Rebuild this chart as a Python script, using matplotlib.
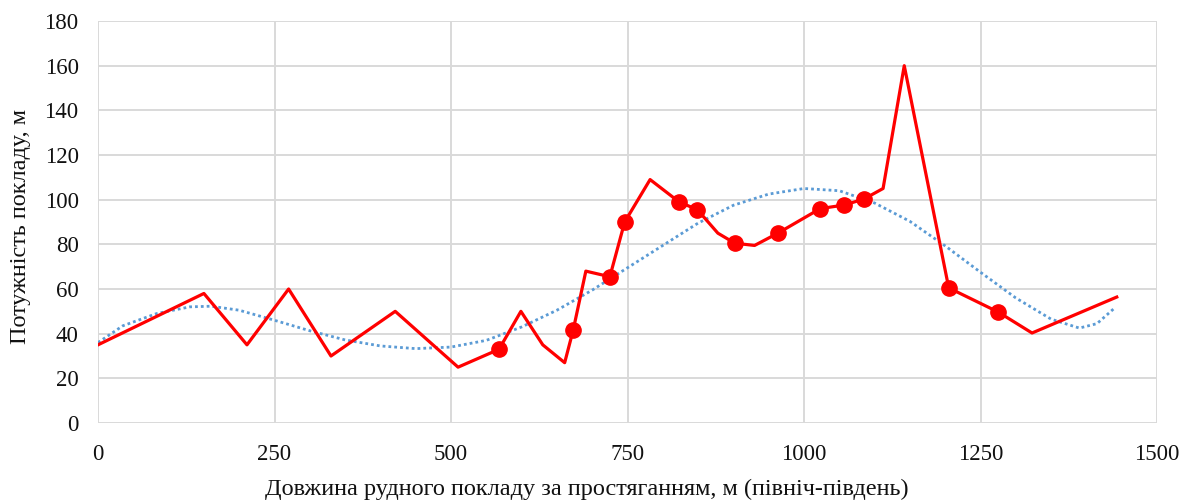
import matplotlib
matplotlib.use("Agg")
import matplotlib.pyplot as plt

# Red series: thickness along strike
x_vals = [0, 150, 211, 270, 330, 421, 510, 568, 599, 630, 661, 673, 691, 725, 746,
          782, 823, 849, 878, 902, 930, 963, 1023, 1057, 1085, 1112, 1142, 1205,
          1275, 1323, 1443]
y_vals = [35, 58, 35, 60, 30, 50, 25, 33, 50, 35, 27, 41.5, 68, 65.5, 90,
          109, 99, 95.5, 85, 80.5, 79.5, 85, 96, 97.6, 100.3, 105, 160, 60.5,
          49.7, 40.3, 56.4]
# Points drawn with a circle marker
marker_x = [568, 673, 725, 746, 823, 849, 902, 963, 1023, 1057, 1085, 1205, 1275]
marker_y = [33, 41.5, 65.5, 90, 99, 95.5, 80.5, 85, 96, 97.6, 100.3, 60.5, 49.7]

# Blue dotted trend line
trend_x = [0, 35, 83, 130, 160, 200, 250, 300, 350, 400, 450, 500, 550, 600, 650,
           700, 750, 800, 850, 900, 950, 1000, 1050, 1100, 1150, 1200, 1250, 1300,
           1350, 1390, 1415, 1440]
trend_y = [36, 43.5, 49, 52, 52.3, 50.5, 46, 41.3, 37.2, 34.5, 33.3, 34, 37, 43,
           50.5, 59.5, 69.5, 79.5, 89.5, 97.5, 102.5, 105, 104, 98.5, 90.3, 79.3,
           67.5, 56, 46.5, 42.5, 44.5, 51.5]

x_ticks = [0, 250, 500, 750, 1000, 1250, 1500]
y_ticks = [0, 20, 40, 60, 80, 100, 120, 140, 160, 180]
x_label = "Довжина рудного покладу за простяганням, м (північ-південь)"
y_label = "Потужність покладу, м"

plt.rcParams['font.family'] = ['Liberation Serif', 'DejaVu Serif']

W, H = 1194, 504
fig = plt.figure(figsize=(W / 100, H / 100), dpi=100)
ax = fig.add_axes([98 / W, 1 - 423 / H, (1157 - 98) / W, (423 - 21) / H])

ax.plot(trend_x, trend_y, color='#5B9BD5', lw=2.0, linestyle=(0, (1, 1.1)),
        dash_capstyle='butt', zorder=3)
ax.plot(x_vals, y_vals, color='#FF0000', lw=2.3, zorder=4)
ax.plot(marker_x, marker_y, 'o', color='#FF0000', markersize=11, zorder=5)

ax.set_xlim(0, 1500)
ax.set_ylim(0, 180)
ax.set_xticks(x_ticks)
ax.set_yticks(y_ticks)
ax.grid(True, color='#D9D9D9', lw=1.4, zorder=0)
ax.set_axisbelow(True)
for s in ax.spines.values():
    s.set_visible(False)
ax.tick_params(length=0, labelsize=16.5, colors='#111111')
ax.tick_params(axis='x', pad=15)
ax.tick_params(axis='y', pad=14)

fig.text(587 / W, 9 / H, x_label, fontsize=17.5, ha='center', va='baseline',
         color='#111111')
fig.text(21 / W, 1 - 226 / H, y_label, fontsize=17.5, ha='center', va='center',
         rotation=90, color='#111111')

fig.savefig("out.png", dpi=100)
